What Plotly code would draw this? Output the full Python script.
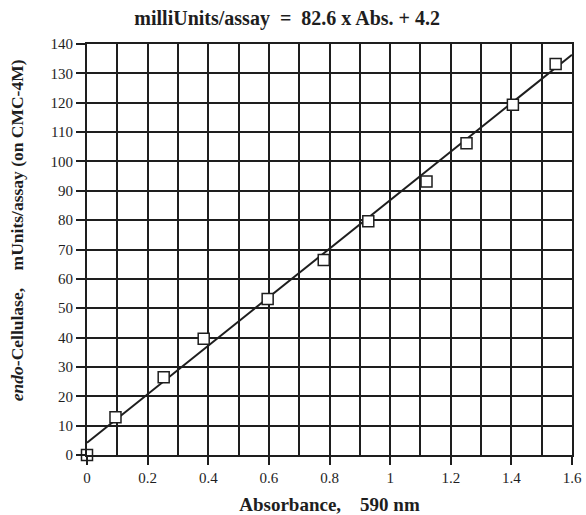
import plotly.graph_objects as go

absorbance = [0.0, 0.094, 0.253, 0.385, 0.596, 0.781, 0.928, 1.12, 1.252, 1.405, 1.546]
activity = [0.0, 12.9, 26.5, 39.6, 53.1, 66.4, 79.6, 93.2, 106.2, 119.3, 133.2]
slope = 82.6
intercept = 4.2
fit_x = [0.0, 1.6]
fit_y = [intercept + slope * v for v in fit_x]

ink = "#1e1e1e"
font = "Liberation Serif"
sp = "\u00a0"

fig = go.Figure()
fig.add_trace(go.Scatter(x=fit_x, y=fit_y, mode="lines",
                         line=dict(color=ink, width=2), cliponaxis=False,
                         hoverinfo="skip"))
fig.add_trace(go.Scatter(x=absorbance, y=activity, mode="markers",
                         marker=dict(symbol="square", size=11, color="white",
                                     line=dict(color=ink, width=1.5)),
                         cliponaxis=False))

fig.add_annotation(
    text="<b><i>endo</i>-Cellulase," + sp * 4 + "mUnits/assay (on CMC-4M)</b>",
    xref="paper", yref="paper", x=0, y=0.547, xanchor="center", yanchor="middle",
    xshift=-70, textangle=-90, showarrow=False,
    font=dict(size=17.5, family=font, color=ink))

fig.update_layout(
    width=586, height=515,
    margin=dict(l=87, r=14, t=44, b=60, autoexpand=False),
    paper_bgcolor="white", plot_bgcolor="white",
    showlegend=False,
    font=dict(family=font, color=ink, size=15),
    title=dict(text="<b>milliUnits/assay" + sp * 2 + "=" + sp * 2 + "82.6 x Abs. + 4.2</b>",
               x=0.49, xanchor="center", y=0.965, yanchor="middle",
               font=dict(size=20, family=font, color=ink)),
    xaxis=dict(range=[0, 1.6], dtick=0.2, tick0=0, showgrid=True,
               gridcolor=ink, gridwidth=1.5, zeroline=False,
               showline=True, linecolor=ink, linewidth=2, mirror=True,
               ticks="outside", ticklen=8, tickcolor=ink, tickwidth=1.5,
               minor=dict(dtick=0.1, showgrid=True, gridcolor=ink, gridwidth=1.5),
               tickfont=dict(size=15, family=font, color=ink),
               automargin=False,
               title=dict(text="<b>Absorbance," + sp * 4 + "590 nm</b>", standoff=15,
                          font=dict(size=19, family=font, color=ink))),
    yaxis=dict(range=[0, 140], dtick=10, tick0=0, showgrid=True,
               gridcolor=ink, gridwidth=1.5, zeroline=False,
               showline=True, linecolor=ink, linewidth=2, mirror=True,
               ticks="outside", ticklen=9, tickcolor=ink, tickwidth=1.5,
               tickfont=dict(size=15, family=font, color=ink),
               automargin=False),
)

fig.write_html("out.html", config={"displayModeBar": False},
               post_script="document.body.style.margin='0';document.body.style.overflow='hidden';")
